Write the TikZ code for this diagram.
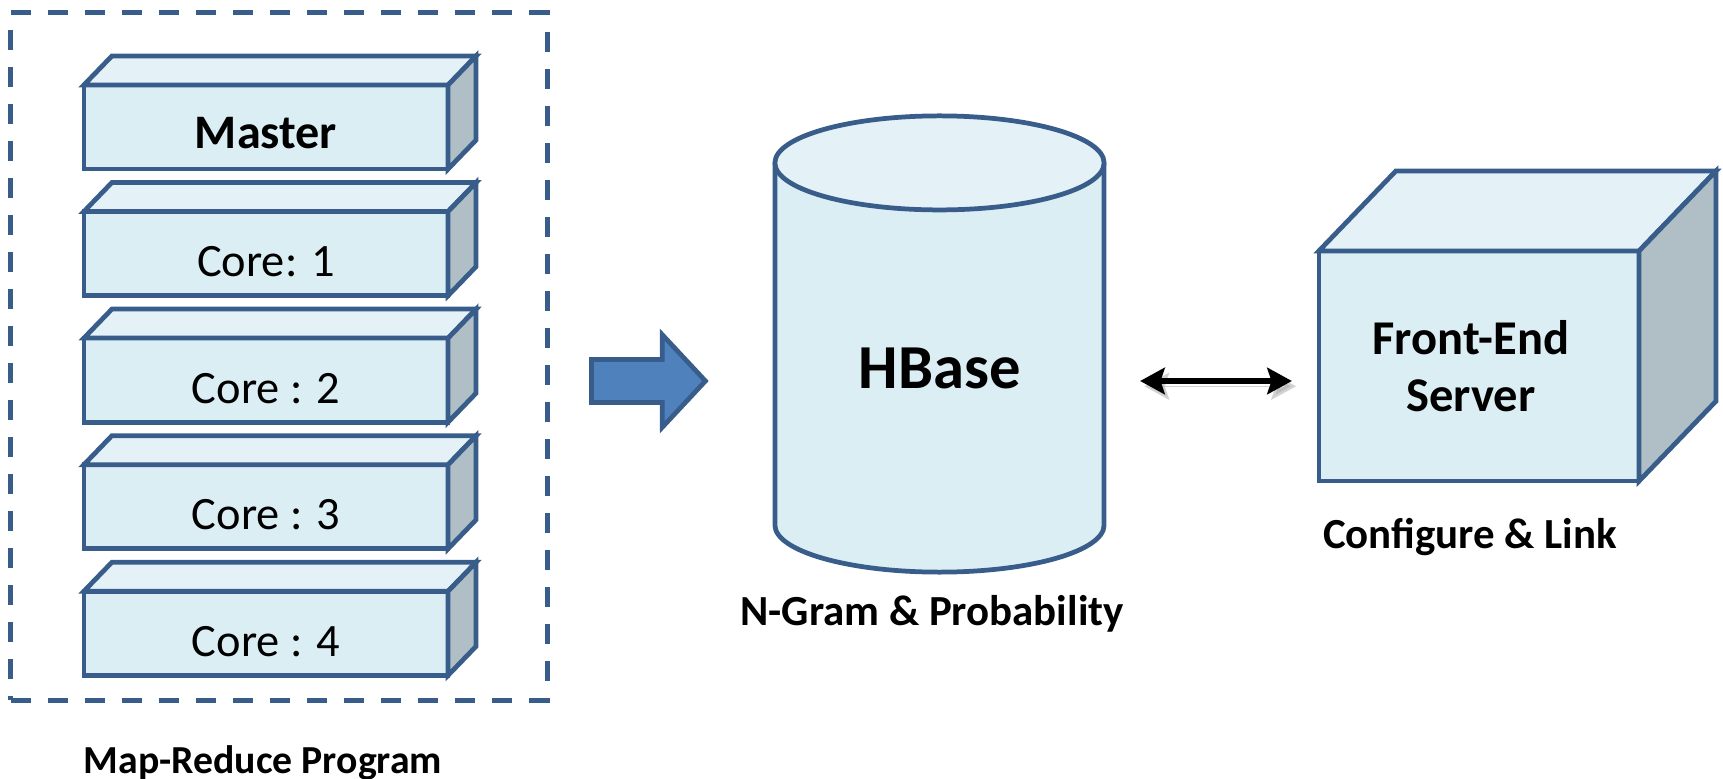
\documentclass[tikz,border=0pt]{standalone}
\usepackage{fontspec}
\setmainfont{Carlito}
\usetikzlibrary{positioning,arrows.meta,shapes.arrows,calc,backgrounds}
\definecolor{edge}{HTML}{385D8A}
\definecolor{face}{HTML}{DBEEF4}
\definecolor{lid}{HTML}{E4F1F7}
\definecolor{flank}{HTML}{B0BEC5}
\definecolor{feedblue}{HTML}{4F81BD}
\tikzset{
outline/.style={draw=edge, line width=1.35pt, line join=miter},
slab/.style={outline, fill=face, minimum width=3.64cm, minimum height=0.84cm,
  inner sep=0pt, outer sep=0pt, text height=0.46cm, text depth=0pt,
  font=\fontsize{13.2pt}{15pt}\selectfont},
lidface/.style={outline, fill=lid},
flankface/.style={outline, fill=flank},
frame/.style={draw=edge, line width=1.35pt, dash pattern=on 0.2cm off 0.17cm,
  minimum width=5.36cm, minimum height=6.87cm},
feed/.style={single arrow, draw=edge, fill=feedblue, line width=1.35pt,
  minimum height=1.14cm, inner sep=0.19cm, single arrow head extend=0.25cm,
  single arrow tip angle=94},
caption/.style={font=\fontsize{12.2pt}{14pt}\selectfont\bfseries},
link/.style={{Stealth[length=7pt,width=7.5pt,inset=1.2pt]}-{Stealth[length=7pt,width=7.5pt,inset=1.2pt]},
  line width=1.9pt, black},
}
% top and right faces of a box drawn on its front node
\newcommand{\solid}[3]{%
  \draw[lidface] (#1.north west) -- ++(#2,#3) -- ($(#1.north east)+(#2,#3)$) -- (#1.north east) -- cycle;
  \draw[flankface] (#1.north east) -- ++(#2,#3) -- ($(#1.south east)+(#2,#3)$) -- (#1.south east) -- cycle;
}

\begin{document}
\begin{tikzpicture}[x=0.01cm, y=0.01cm]
    \useasboundingbox (0,0) rectangle (1723,-779);

    % map-reduce side
    \node[frame] (mr) at (279,-356.5) {};
    \node[slab, font=\fontsize{13.7pt}{15pt}\selectfont\bfseries, text height=0.42cm] (master) at (266,-127) {Master};
    \node[slab, below=0.425cm of master] (core1) {Core: 1};
    \node[slab, below=0.425cm of core1] (core2) {Core : 2};
    \node[slab, below=0.425cm of core2] (core3) {Core : 3};
    \node[slab, below=0.425cm of core3] (core4) {Core : 4};
    \foreach \n in {master,core1,core2,core3,core4}
        \solid{\n}{28}{29};
    \node[caption, font=\fontsize{11.3pt}{14pt}\selectfont\bfseries, anchor=base] (mrtext) at (263,-773) {Map-Reduce Program};

    \node[feed, anchor=tail] (load) at (589,-381) {};

    % hbase store
    \node[inner sep=0pt, outer sep=0pt, minimum width=3.29cm, minimum height=3.62cm,
          text height=0.88cm, text depth=0pt,
          font=\fontsize{17.8pt}{20pt}\selectfont\bfseries] (hbase) at (939.5,-344) {HBase};
    \begin{scope}[on background layer]
        \draw[outline, fill=face] (hbase.north east) -- (hbase.south east)
            arc[start angle=0, end angle=-180, x radius=1.645cm, y radius=0.47cm] -- (hbase.north west);
        \draw[outline, fill=lid] (hbase.north) ellipse[x radius=1.645cm, y radius=0.47cm];
    \end{scope}
    \node[caption, anchor=base] (ngram) at (932,-625) {N-Gram \& Probability};

    % server
    \node[outline, fill=face, minimum width=3.2cm, minimum height=2.3cm, inner sep=0pt, outer sep=0pt,
          align=center, font=\fontsize{13.8pt}{16.2pt}\selectfont\bfseries] (server) at (1479,-366) {\hspace*{-0.16cm}Front-End\\\hspace*{-0.16cm}Server};
    \solid{server}{77}{80}
    \node[caption, anchor=base] (conf) at (1470,-548) {Configure \& Link};

    \draw[link, shorten <=0.36cm, shorten >=0.27cm,
          preaction={draw=black!35, opacity=0.5, transform canvas={xshift=1.2pt, yshift=-1.5pt}}]
        (hbase.east |- load.tip) -- (server.west |- load.tip);

\end{tikzpicture}
\end{document}
